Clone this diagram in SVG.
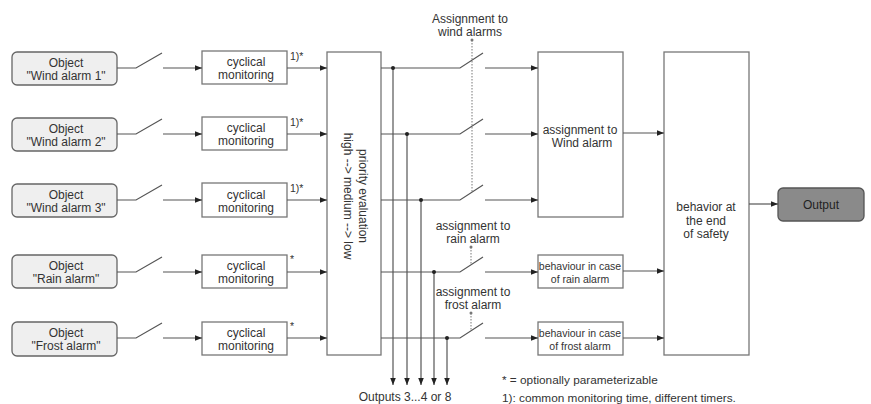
<svg xmlns="http://www.w3.org/2000/svg" width="871" height="404" viewBox="0 0 871 404">
<defs>
<marker id="ah" viewBox="0 0 10 10" refX="10" refY="5" markerWidth="7" markerHeight="7" markerUnits="userSpaceOnUse" orient="auto"><path d="M0,1 L10,5 L0,9 Z" fill="#222"/></marker>
</defs>
<style>
.box{fill:#fff;stroke:#777;stroke-width:1.3}
.obj{fill:#efefef;stroke:#666;stroke-width:1.3}
.out{fill:#8a8a8a;stroke:#555;stroke-width:1.3}
.ln{fill:none;stroke:#555;stroke-width:1.2}
.ar{fill:none;stroke:#555;stroke-width:1.2;marker-end:url(#ah)}
.dot{fill:#222}
.dt{fill:none;stroke:#777;stroke-width:1;stroke-dasharray:1.5 1.5}
text{font-family:"Liberation Sans",Arial,sans-serif;font-size:12px;fill:#333;text-anchor:middle}
.sm{font-size:10.5px}
.ft{font-size:11.8px}
.l{text-anchor:start}
</style>
<rect width="871" height="404" fill="#fff"/>

<g id="obj1"><rect class="obj" x="12" y="52" width="105" height="33" rx="5"/><text x="66" y="67">Object</text><text x="66" y="80">"Wind alarm 1"</text></g>
<g id="obj2"><rect class="obj" x="12" y="118" width="105" height="33" rx="5"/><text x="66" y="133">Object</text><text x="66" y="146">"Wind alarm 2"</text></g>
<g id="obj3"><rect class="obj" x="12" y="184" width="105" height="33" rx="5"/><text x="66" y="199">Object</text><text x="66" y="212">"Wind alarm 3"</text></g>
<g id="obj4"><rect class="obj" x="12" y="255" width="105" height="33" rx="5"/><text x="66" y="270">Object</text><text x="66" y="283">"Rain alarm"</text></g>
<g id="obj5"><rect class="obj" x="12" y="322" width="105" height="34" rx="5"/><text x="66" y="337">Object</text><text x="66" y="350">"Frost alarm"</text></g>

<g id="mon1"><rect class="box" x="202" y="51" width="85" height="33"/><text x="246" y="66">cyclical</text><text x="246" y="79">monitoring</text></g>
<g id="mon2"><rect class="box" x="202" y="117" width="85" height="33"/><text x="246" y="132">cyclical</text><text x="246" y="145">monitoring</text></g>
<g id="mon3"><rect class="box" x="202" y="183" width="85" height="34"/><text x="246" y="199">cyclical</text><text x="246" y="212">monitoring</text></g>
<g id="mon4"><rect class="box" x="202" y="255" width="85" height="33"/><text x="246" y="270">cyclical</text><text x="246" y="283">monitoring</text></g>
<g id="mon5"><rect class="box" x="202" y="322" width="85" height="33"/><text x="246" y="337">cyclical</text><text x="246" y="350">monitoring</text></g>

<g id="prio"><rect class="box" x="327" y="52" width="54" height="303"/>
<text transform="translate(353,196) rotate(90)"><tspan x="0" y="-6">priority evaluation</tspan><tspan x="0" y="9">high --&gt; medium --&gt; low</tspan></text></g>

<g id="wind"><rect class="box" x="538" y="52" width="85" height="165"/><text x="580" y="134">assignment to</text><text x="582" y="147">Wind alarm</text></g>
<g id="rain"><rect class="box" x="538" y="255" width="85" height="33"/><text class="sm" x="580" y="270">behaviour in case</text><text class="sm" x="580" y="283">of rain alarm</text></g>
<g id="frost"><rect class="box" x="538" y="322" width="85" height="33"/><text class="sm" x="580" y="337">behaviour in case</text><text class="sm" x="580" y="350">of frost alarm</text></g>

<g id="safety"><rect class="box" x="664" y="52" width="85" height="303"/><text x="706" y="211">behavior at</text><text x="706" y="225">the end</text><text x="706" y="238">of safety</text></g>

<g id="output"><rect class="out" x="778" y="188" width="86" height="33" rx="5"/><text x="821" y="209" style="fill:#222">Output</text></g>

<g id="connectors">
<path class="ln" d="M117,68 H136 L162,53"/><path class="ar" d="M163,68 H202"/>
<path class="ln" d="M117,134 H136 L162,119"/><path class="ar" d="M163,134 H202"/>
<path class="ln" d="M117,200 H136 L162,185"/><path class="ar" d="M163,200 H202"/>
<path class="ln" d="M117,272 H136 L162,257"/><path class="ar" d="M163,272 H202"/>
<path class="ln" d="M117,338 H136 L162,323"/><path class="ar" d="M163,338 H202"/>
<path class="ar" d="M287,68 H327"/>
<path class="ar" d="M287,134 H327"/>
<path class="ar" d="M287,200 H327"/>
<path class="ar" d="M287,272 H327"/>
<path class="ar" d="M287,338 H327"/>
<path class="ln" d="M381,68 H460 L483,53"/><path class="ar" d="M485,68 H538"/>
<path class="ln" d="M381,134 H460 L483,119"/><path class="ar" d="M485,134 H538"/>
<path class="ln" d="M381,200 H460 L483,185"/><path class="ar" d="M485,200 H538"/>
<path class="ln" d="M381,272 H460 L483,257"/><path class="ar" d="M485,272 H538"/>
<path class="ln" d="M381,338 H460 L483,323"/><path class="ar" d="M485,338 H538"/>
<path class="ar" d="M393,68 V385"/><circle class="dot" cx="393" cy="68" r="2"/>
<path class="ar" d="M407,134 V385"/><circle class="dot" cx="407" cy="134" r="2"/>
<path class="ar" d="M421,200 V385"/><circle class="dot" cx="421" cy="200" r="2"/>
<path class="ar" d="M434,272 V385"/><circle class="dot" cx="434" cy="272" r="2"/>
<path class="ar" d="M447,338 V385"/><circle class="dot" cx="447" cy="338" r="2"/>
<path class="dt" d="M472,40 V192"/><circle cx="472" cy="40" r="1.5" fill="#777"/>
<path class="dt" d="M471,247 V264"/><circle cx="471" cy="247" r="1.5" fill="#777"/>
<path class="dt" d="M471,313 V331"/><circle cx="471" cy="313" r="1.5" fill="#777"/>
<path class="ar" d="M623,133 H664"/>
<path class="ar" d="M623,271 H664"/>
<path class="ar" d="M623,338 H664"/>
<path class="ar" d="M749,204 H778"/>
</g>

<g id="labels">
<text class="sm l" x="290" y="60">1)*</text>
<text class="sm l" x="290" y="126">1)*</text>
<text class="sm l" x="290" y="192">1)*</text>
<text class="sm l" x="290" y="263">*</text>
<text class="sm l" x="290" y="330">*</text>
<text x="470" y="23">Assignment to</text>
<text x="470" y="36">wind alarms</text>
<text x="473" y="230">assignment to</text>
<text x="473" y="243">rain alarm</text>
<text x="473" y="296">assignment to</text>
<text x="473" y="309">frost alarm</text>
<text x="405" y="401">Outputs 3...4 or 8</text>
<text class="ft l" x="502" y="384">* = optionally parameterizable</text>
<text class="ft l" x="502" y="402">1): common monitoring time, different timers.</text>
</g>
</svg>
